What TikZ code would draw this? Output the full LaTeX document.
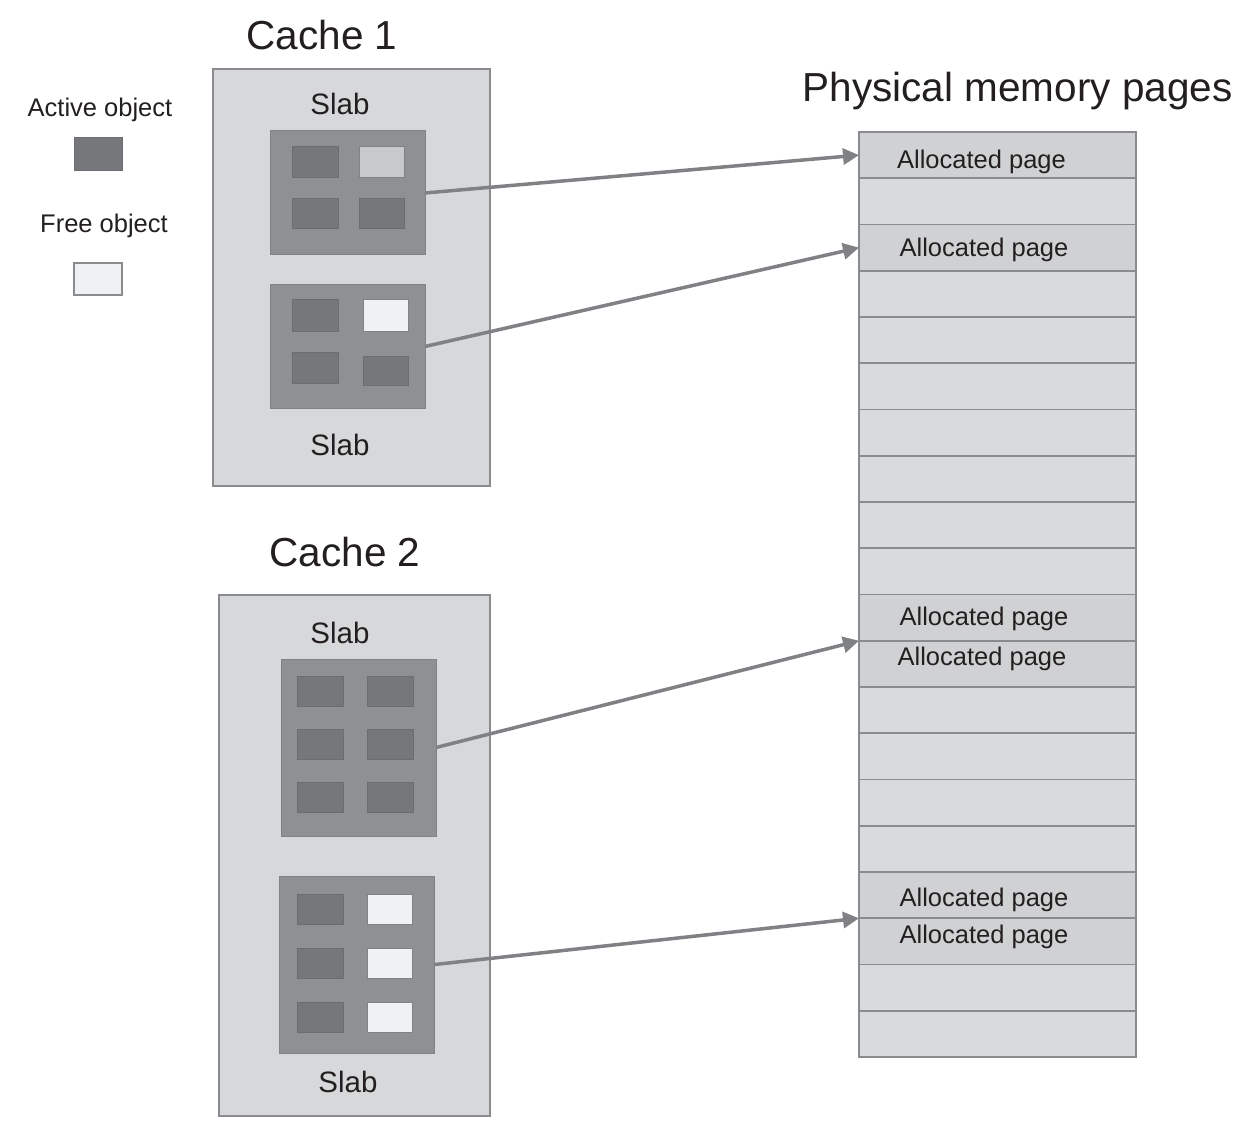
\documentclass[tikz,border=0pt]{standalone}
\usepackage{fontspec}
\setmainfont{Liberation Sans}
\usetikzlibrary{arrows.meta}
\definecolor{txt}{HTML}{231F20}
\definecolor{cachefill}{HTML}{D7D8DA}
\definecolor{edge}{HTML}{8A8B8E}
\definecolor{slabfill}{HTML}{8F9093}
\definecolor{slabedge}{HTML}{818285}
\definecolor{activefill}{HTML}{76777A}
\definecolor{activeedge}{HTML}{6C6D70}
\definecolor{freefill}{HTML}{F0F1F2}
\definecolor{partfill}{HTML}{C8C9CB}
\definecolor{pagefill}{HTML}{D9DADC}
\definecolor{allocfill}{HTML}{D0D1D3}
\definecolor{arrowcol}{HTML}{808184}
\tikzset{
  every node/.style={text=txt, inner sep=0pt, outer sep=0pt},
  cachebox/.style={draw=edge, fill=cachefill, line width=1.5pt},
  slabbox/.style={draw=slabedge, fill=slabfill, line width=1pt},
  activeobj/.style={draw=activeedge, fill=activefill, line width=1pt},
  freeobj/.style={draw=slabedge, fill=freefill, line width=1pt},
  partobj/.style={draw=slabedge, fill=partfill, line width=1pt},
  legfree/.style={draw=edge, fill=freefill, line width=1.5pt},
  pagebox/.style={fill=pagefill, minimum width=277pt, minimum height=46.25pt},
  allocbox/.style={pagebox, fill=allocfill},
  pageedge/.style={draw=edge, line width=1.8pt},
  bigtitle/.style={anchor=base, font=\fontsize{40.5}{46}\selectfont},
  slablabel/.style={anchor=base, font=\fontsize{29.5}{34}\selectfont},
  smalltext/.style={anchor=base, font=\fontsize{25.5}{30}\selectfont},
  link/.style={draw=arrowcol, line width=3.5pt, -{Triangle[length=16pt,width=16pt]}}
}
\begin{document}
\begin{tikzpicture}[x=1pt,y=-1pt]
\useasboundingbox[fill=white] (0,0) rectangle (1249,1139);

% legend
\node[smalltext] (lact) at (100,116.5) {Active object};
\draw[activeobj] (74,138) rectangle (122,171);
\node[smalltext] (lfree) at (104,232.5) {Free object};
\draw[legfree] (74,263) rectangle (122,295);

% Cache 1
\node[bigtitle] (c1t) at (322,50) {Cache 1};
\draw[cachebox] (213,69) rectangle (490,486);
\node[slablabel] (c1s1t) at (340,115) {Slab};
\node[slablabel] (c1s2t) at (340,455) {Slab};
\node[slabbox, minimum width=155pt, minimum height=124pt] (c1s1) at (347.5,193) {};
\draw[activeobj] (292,147) rectangle (338,178);
\draw[partobj]   (359,147) rectangle (404,178);
\draw[activeobj] (292,199) rectangle (338,229);
\draw[activeobj] (359,199) rectangle (404,229);
\node[slabbox, minimum width=155pt, minimum height=123pt] (c1s2) at (347.5,346.5) {};
\draw[activeobj] (292,300) rectangle (338,331);
\draw[freeobj]   (363,300) rectangle (408,331);
\draw[activeobj] (292,352) rectangle (338,383);
\draw[activeobj] (363,356) rectangle (408,385);

% Cache 2
\node[bigtitle] (c2t) at (345,566.5) {Cache 2};
\draw[cachebox] (219,595) rectangle (490,1116);
\node[slablabel] (c2s1t) at (340,643.5) {Slab};
\node[slablabel] (c2s2t) at (348,1092.3) {Slab};
\node[slabbox, minimum width=155pt, minimum height=177pt] (c2s1) at (358.5,747.5) {};
\foreach \y/\h in {676/706,729/759,782/812}{
  \draw[activeobj] (297,\y) rectangle (343,\h);
  \draw[activeobj] (367,\y) rectangle (413,\h);
}
\node[slabbox, minimum width=155pt, minimum height=177pt] (c2s2) at (357,964.5) {};
\foreach \y/\h in {894/924,948/978,1002/1032}{
  \draw[activeobj] (297,\y) rectangle (343,\h);
  \draw[freeobj]   (367,\y) rectangle (412,\h);
}

% Physical memory pages
\node[bigtitle] (pmt) at (1017.5,101.5) {Physical memory pages};
\foreach \i in {0,...,19}{
  \node[pagebox] (p\i) at (997.5,{155.125+46.25*\i}) {};
}
\foreach \i in {0,2,10,11,16,17}{
  \node[allocbox] (p\i) at (997.5,{155.125+46.25*\i}) {};
}
\foreach \i in {0,...,19}{
  \draw[pageedge] (p\i.north west) rectangle (p\i.south east);
}
\node[smalltext] (a0) at (981.5,169) {Allocated page};
\node[smalltext] (a2) at (984,256.5) {Allocated page};
\node[smalltext] (a10) at (984,625) {Allocated page};
\node[smalltext] (a11) at (982,665) {Allocated page};
\node[smalltext] (a16) at (984,906) {Allocated page};
\node[smalltext] (a17) at (984,943.5) {Allocated page};

% connectors
\draw[link] (c1s1.east) -- (p0.west);
\draw[link] (c1s2.east) -- (p2.west);
\draw[link] (c2s1.east) -- (p10.south west);
\draw[link] (c2s2.east) -- (p16.south west);
\end{tikzpicture}
\end{document}
